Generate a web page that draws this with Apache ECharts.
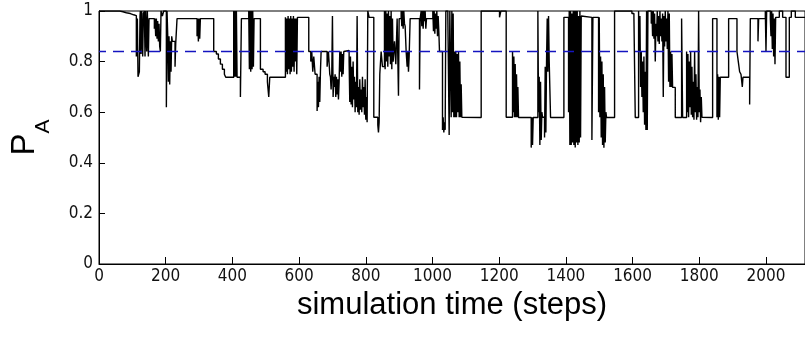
<!DOCTYPE html>
<html>
<head>
<meta charset="utf-8">
<script src="https://cdn.jsdelivr.net/npm/echarts@6/dist/echarts.min.js"></script>
<style>
  html, body { margin: 0; padding: 0; background: #ffffff; }
  #chart { width: 805px; height: 339px; }
</style>
</head>
<body>
<div id="chart"></div>
<script>
// Axis ticks
const xTickValues = [0, 200, 400, 600, 800, 1000, 1200, 1400, 1600, 1800, 2000];
const yTickValues = [0, 0.2, 0.4, 0.6, 0.8, 1];
const stepsMax = 2117;

// Reference level (dashed)
const threshold = 0.84;

// P_A trace as [step, value] pairs; each value holds until the next step listed
const paSteps0to500 = [
  [0,1.0],[62,0.997],[72,0.993],[82,0.99],[94,0.985],[104,0.982],
  [112,0.82],[115,0.97],[117,0.74],[121,0.76],[123,0.98],
  [124,1.0],[126,0.83],[128,1.0],[131,0.82],[133,0.99],[136,1.0],[138,0.82],[140,1.0],[143,0.84],[145,1.0],[148,0.82],
  [150,0.97],[166,0.93],[168,0.97],[170,0.9],[172,0.97],[174,0.89],[176,0.96],[178,0.88],[180,0.95],[182,0.86],[184,0.84],
  [186,1.0],[190,0.98],[194,1.0],[202,0.62],[204,1.0],
  [206,0.91],[208,0.72],[210,0.9],[212,0.71],[214,0.88],[216,0.76],[218,0.9],
  [220,0.88],[228,0.78],[230,0.87],
  [234,0.97],[294,0.9],[296,0.97],[298,0.88],[300,0.97],[302,0.89],[304,0.97],
  [344,0.84],[352,0.83],[358,0.81],[364,0.79],[370,0.77],[376,0.75],[380,0.738],
  [404,1.0],[406,0.74],[408,1.0],[410,0.74],[412,1.0],[414,0.738],
  [424,0.66],[427,0.97],
  [449,1.0],[451,0.77],[453,1.0],[455,0.76],[457,1.0],[459,0.77],[461,1.0],[463,0.78],[465,0.97],
  [484,0.77],[492,0.76],[498,0.75]
];

const paSteps500to1000 = [
  [505,0.72],[509,0.66],[512,0.738],
  [559,0.975],[561,0.76],[563,0.97],[565,0.75],[567,0.98],[569,0.77],[571,0.97],[573,0.75],[575,0.98],[577,0.76],
  [579,0.97],[581,0.78],[583,0.98],[585,0.76],[587,0.97],[589,0.8],[591,0.97],[593,0.75],[595,0.975],
  [629,0.84],[635,0.8],[638,0.84],[641,0.76],[644,0.82],[648,0.75],
  [654,0.605],[656,0.72],[658,0.62],[660,0.74],[662,0.64],[664,0.76],
  [666,0.84],[684,0.78],[688,0.84],[692,0.75],
  [694,0.74],[696,0.69],[698,0.75],[700,0.98],[702,0.66],[704,0.74],
  [706,0.7],[708,0.75],[710,0.66],[712,0.74],[714,0.67],[716,0.73],[718,0.65],[720,0.72],
  [722,0.84],[724,0.76],[726,0.84],[728,0.74],[730,0.83],[732,0.75],[734,0.84],[736,0.844],
  [750,0.8],[752,0.64],[754,0.82],[756,0.63],[758,0.78],[760,0.62],[762,0.8],[764,0.65],
  [766,0.74],[768,0.6],[770,0.72],[772,0.62],[774,0.98],[776,0.6],[778,0.7],[780,0.59],[782,0.73],[784,0.61],
  [786,0.69],[788,0.6],[790,0.74],[792,0.62],[794,0.7],[796,0.59],[798,0.73],[800,0.57],[802,0.66],[804,0.56],
  [806,1.0],[810,0.975],[824,0.58],[836,0.55],[838,0.52],[840,0.56],[842,0.75],[846,0.84],[850,0.78],
  [856,1.0],[858,0.77],[860,1.0],[862,0.8],[864,0.99],[866,0.78],[868,1.0],[870,0.82],[872,0.98],[874,0.79],[876,1.0],[878,0.77],[880,0.97],
  [882,0.8],[886,0.88],[890,0.79],[894,0.97],[898,0.665],[900,0.97],
  [906,1.0],[908,0.94],[910,1.0],[912,0.93],[914,1.0],[916,0.95],[918,0.94],
  [921,0.84],[924,0.78],[926,0.84],[928,0.76],[930,0.82],[933,0.97],
  [961,0.69],[963,0.97],
  [966,1.0],[968,0.94],[970,1.0],[972,0.93],[974,1.0],[976,0.96],[978,1.0],[980,0.93],[982,0.97]
];

const paSteps1000to1500 = [
  [1001,1.0],[1003,0.92],[1005,1.0],[1007,0.91],[1009,0.99],[1011,0.93],[1013,1.0],[1015,0.9],[1017,0.98],[1019,0.92],
  [1021,0.84],[1030,0.53],[1032,0.58],[1034,0.52],[1036,0.56],[1038,0.53],[1040,1.0],[1046,0.98],[1050,0.51],[1052,1.0],
  [1056,0.58],[1058,1.0],[1060,0.6],[1062,0.99],[1064,0.58],[1066,0.84],[1068,0.58],[1070,0.84],[1072,0.58],[1074,0.83],
  [1076,0.6],[1078,0.84],[1080,0.58],[1082,0.8],[1084,0.58],[1086,0.71],[1088,0.58],[1090,0.579],
  [1146,1.0],[1201,0.975],[1205,1.0],[1221,0.58],
  [1240,0.84],[1242,0.6],[1244,0.82],[1246,0.58],[1248,0.79],[1250,0.58],[1252,0.75],[1254,0.58],[1256,0.7],[1258,0.579],
  [1296,0.46],[1298,0.58],[1300,0.47],[1302,0.579],
  [1316,1.0],[1318,0.6],[1320,0.74],[1322,0.47],[1324,0.72],[1326,0.49],[1328,0.6],[1330,0.58],
  [1336,0.5],[1338,0.78],[1340,0.52],[1342,0.8],[1344,0.97],[1346,0.76],[1348,0.98],[1350,0.8],[1354,0.579],
  [1394,0.975],[1408,0.6],[1410,1.0],[1412,0.47],[1414,1.0],[1416,0.47],[1418,0.99],[1420,0.48],[1422,1.0],[1424,0.47],
  [1426,1.0],[1428,0.46],[1430,1.0],[1432,0.48],[1434,1.0],[1436,0.47],[1438,0.98],[1440,0.48],[1442,1.0],[1444,0.5],
  [1446,0.98],[1448,0.975],
  [1478,0.49],[1481,0.975],[1498,0.6]
];

const paSteps1500to2117 = [
  [1500,0.975],[1502,0.58],[1504,0.82],[1506,0.5],[1508,0.8],[1510,0.47],[1512,0.75],[1514,0.46],[1516,0.7],[1518,0.48],[1520,0.6],[1522,0.579],
  [1546,1.0],[1598,0.99],[1604,0.975],[1608,0.579],
  [1618,1.0],[1620,0.84],[1622,0.98],[1624,0.7],[1626,0.84],[1628,0.66],[1630,0.8],[1632,0.6],[1634,0.82],[1636,0.55],
  [1638,0.76],[1640,0.53],[1642,1.0],[1644,0.53],[1646,1.0],
  [1656,0.95],[1658,1.0],[1660,0.9],[1662,1.0],[1664,0.89],[1666,0.99],[1668,0.8],[1670,0.95],[1672,0.9],[1674,1.0],
  [1676,0.88],[1678,0.98],[1680,0.87],[1682,1.0],[1684,0.9],[1686,0.97],[1688,0.88],[1690,0.99],[1692,0.66],[1694,0.98],
  [1696,0.86],[1698,1.0],[1700,0.88],[1702,0.97],[1704,0.85],[1706,1.0],
  [1708,0.72],[1710,0.99],[1712,0.7],[1714,0.84],[1716,0.7],[1718,0.83],[1720,0.698],
  [1728,0.579],[1747,0.97],[1750,0.579],
  [1762,0.84],[1764,0.6],[1766,0.83],[1768,0.58],[1770,0.8],[1772,0.62],[1774,0.84],[1776,0.59],[1778,0.78],[1780,0.58],[1782,0.72],[1784,0.57],
  [1786,0.84],[1788,0.6],[1790,0.75],[1792,0.57],[1794,0.7],[1796,0.58],[1798,1.0],[1800,0.6],[1802,0.69],[1804,0.56],[1806,0.66],[1808,0.58],[1810,0.579],
  [1840,0.97],[1853,0.58],[1855,0.75],[1857,0.57],[1859,0.74],[1861,0.58],[1863,0.738],
  [1888,0.97],[1913,0.84],[1917,0.8],[1921,0.76],[1925,0.75],[1926,0.738],[1929,0.7],[1931,0.738],[1951,0.63],[1953,0.97],
  [1976,0.88],[1978,0.97],[1998,1.0],[2000,0.84],[2002,1.0],
  [2013,0.97],[2015,0.9],[2017,1.0],[2019,0.85],[2021,0.99],[2023,0.82],[2025,0.97],[2027,0.79],[2029,0.975],
  [2040,1.0],[2050,0.975],[2060,0.738],[2070,0.975],[2076,1.0],[2088,0.975],[2117,0.975]
];

const paTrace = paSteps0to500.concat(paSteps500to1000, paSteps1000to1500, paSteps1500to2117);
const thresholdLine = [[0, threshold], [stepsMax, threshold]];

const tickFont = "'Liberation Sans Narrow', 'DejaVu Sans Condensed', 'Liberation Sans', sans-serif";
const titleFont = "'Liberation Sans', Arial, sans-serif";

const chart = echarts.init(document.getElementById('chart'), null, { renderer: 'canvas' });

chart.setOption({
  animation: false,
  backgroundColor: '#ffffff',
  grid: {
    left: 97, right: -1, top: 11, bottom: 75,
    show: true, borderColor: '#000000', borderWidth: 1, backgroundColor: '#ffffff'
  },
  xAxis: {
    type: 'value',
    min: 0, max: stepsMax,
    name: 'simulation time (steps)',
    nameLocation: 'middle',
    nameGap: 22,
    nameTextStyle: { fontFamily: titleFont, fontSize: 31, color: '#000000' },
    axisLine: { show: true, lineStyle: { color: '#000000', width: 1 } },
    axisTick: { show: true, inside: true, length: 7, lineStyle: { color: '#000000' }, customValues: xTickValues },
    axisLabel: {
      show: true, margin: 4, fontFamily: tickFont, fontSize: 17, color: '#111111',
      customValues: xTickValues,
      formatter: function (v) { return String(v); }
    },
    splitLine: { show: false }
  },
  yAxis: {
    type: 'value',
    min: 0, max: 1, interval: 0.2,
    name: '{p|P}{a|A}{s|\u200b}',
    nameLocation: 'middle',
    nameRotate: 90,
    nameGap: 45,
    nameTextStyle: {
      color: '#000000',
      rich: {
        p: { fontFamily: titleFont, fontSize: 33, lineHeight: 34, verticalAlign: 'top', color: '#000000' },
        a: { fontFamily: titleFont, fontSize: 21, lineHeight: 21, verticalAlign: 'bottom', color: '#000000' },
        s: { fontSize: 10, lineHeight: 46 }
      }
    },
    axisLine: { show: true, lineStyle: { color: '#000000', width: 1 } },
    axisTick: { show: true, inside: true, length: 6, lineStyle: { color: '#000000' }, customValues: yTickValues },
    axisLabel: { show: true, margin: 6, fontFamily: tickFont, fontSize: 17, color: '#111111', customValues: yTickValues },
    splitLine: { show: false }
  },
  series: [
    {
      name: 'P_A',
      type: 'line',
      data: paTrace,
      step: 'end',
      symbol: 'none',
      lineStyle: { color: '#000000', width: 1.4 },
      z: 2
    },
    {
      name: 'level',
      type: 'line',
      data: thresholdLine,
      symbol: 'none',
      lineStyle: { color: '#1414c0', width: 1.3, type: [11, 7], dashOffset: 4 },
      z: 3
    }
  ]
});
</script>
</body>
</html>
